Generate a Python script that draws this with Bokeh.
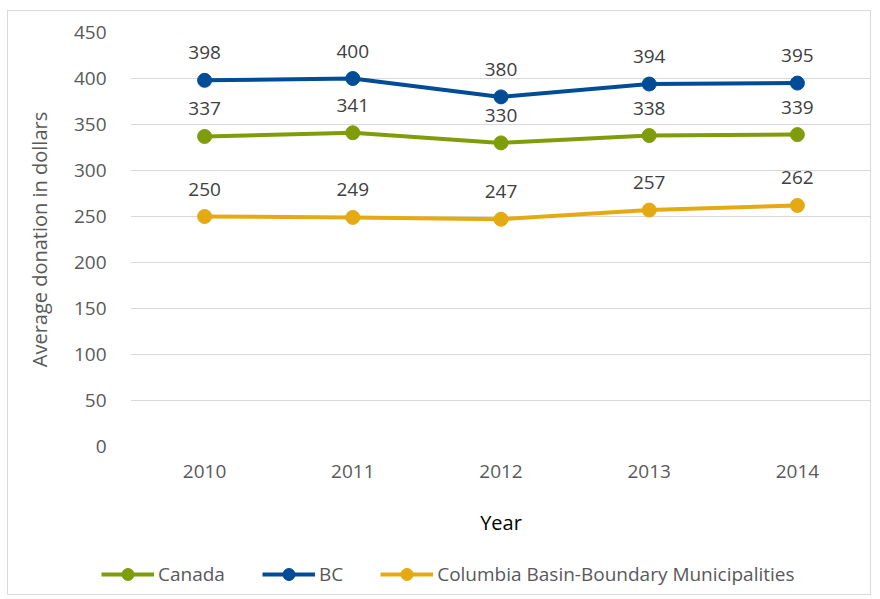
from bokeh.plotting import figure
from bokeh.models import ColumnDataSource, LabelSet, Legend, LegendItem, FactorRange
from bokeh.core.properties import value
from bokeh.embed import file_html
from bokeh.resources import INLINE

years = ["2010", "2011", "2012", "2013", "2014"]
canada = [337, 341, 330, 338, 339]
bc = [398, 400, 380, 394, 395]
cbbm = [250, 249, 247, 257, 262]
y_ticks = [0, 50, 100, 150, 200, 250, 300, 350, 400, 450]

series = [
    ("Canada", canada, "#7F9C0A"),
    ("BC", bc, "#004C97"),
    ("Columbia Basin-Boundary Municipalities", cbbm, "#E5AA12"),
]

FONT = "Open Sans"
BORDER = "1px solid #d9d9d9"

p = figure(width=864, height=545, x_range=FactorRange(*years), y_range=(0, 450),
           output_backend="svg", toolbar_location=None,
           min_border_left=122, min_border_right=1, min_border_top=21, min_border_bottom=110)
p.styles = {"border-top": BORDER, "border-left": BORDER, "border-right": BORDER,
            "margin-left": "7px", "margin-top": "10px"}
p.outline_line_color = None
p.background_fill_color = "white"
p.border_fill_color = "white"

p.xgrid.grid_line_color = None
p.ygrid.grid_line_color = "#d9d9d9"
p.ygrid.grid_line_width = 1
p.yaxis.ticker = y_ticks

for ax in (p.xaxis, p.yaxis):
    ax.axis_line_color = None
    ax.major_tick_line_color = None
    ax.minor_tick_line_color = None
    ax.major_label_text_font = FONT
    ax.major_label_text_font_size = "19px"
    ax.major_label_text_color = "#595959"
    ax.axis_label_text_font = FONT
    ax.axis_label_text_font_style = "normal"

p.xaxis.major_label_standoff = 12
p.yaxis.major_label_standoff = 18
p.xaxis.axis_label = "Year"
p.xaxis.axis_label_text_font_size = "20px"
p.xaxis.axis_label_text_color = "#000000"
p.xaxis.axis_label_standoff = 28
p.yaxis.axis_label = "Average donation in dollars"
p.yaxis.axis_label_text_font_size = "20px"
p.yaxis.axis_label_text_color = "#595959"
p.yaxis.axis_label_standoff = 18

# legend strip below the chart (its renderers are hidden; only the legend shows)
lg = figure(width=864, height=40, x_range=FactorRange(*years), y_range=(0, 450),
            output_backend="svg", toolbar_location=None,
            x_axis_location=None, y_axis_location=None,
            min_border_left=0, min_border_right=0, min_border_top=0, min_border_bottom=0)
lg.styles = {"border-bottom": BORDER, "border-left": BORDER, "border-right": BORDER,
             "margin-left": "7px"}
lg.grid.grid_line_color = None
lg.outline_line_color = None
lg.border_fill_color = "white"

items = []
for name, vals, color in series:
    src = ColumnDataSource(dict(x=years, y=vals, lbl=[str(v) for v in vals]))
    p.line("x", "y", source=src, line_color=color, line_width=4)
    p.scatter("x", "y", source=src, size=14, fill_color=color, line_color=color)
    labels = LabelSet(x="x", y="y", text="lbl", source=src, y_offset=21,
                      text_align="center", text_baseline="bottom",
                      text_font=value(FONT), text_font_size="19px", text_color="#404040")
    p.add_layout(labels)
    ln = lg.line("x", "y", source=src, line_color=color, line_width=4, visible=False)
    sc = lg.scatter("x", "y", source=src, size=13, fill_color=color, line_color=color,
                    visible=False)
    items.append(LegendItem(label=name, renderers=[ln, sc]))

legend = Legend(items=items, location=(93, 6), orientation="horizontal",
                glyph_width=53, glyph_height=30, label_standoff=4, spacing=37,
                padding=0, margin=0, border_line_color=None, background_fill_alpha=0,
                label_text_font=FONT, label_text_font_size="19px",
                label_text_color="#595959")
lg.add_layout(legend)

open("out.html", "w").write(file_html([p, lg], INLINE))
